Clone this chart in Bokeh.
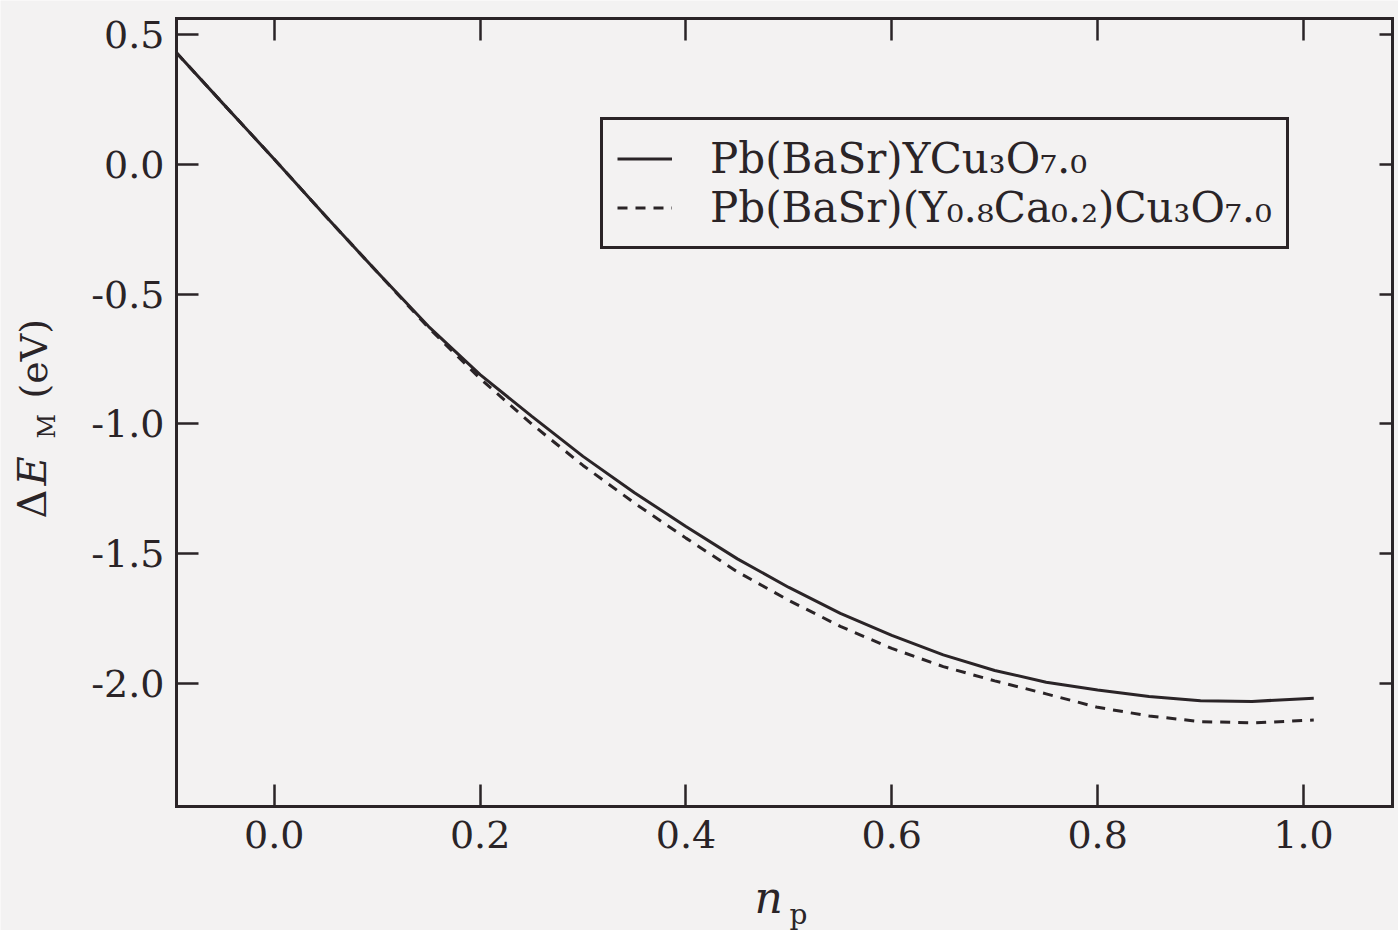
import math
from bokeh.plotting import figure
from bokeh.models import Range1d, LinearAxis, FixedTicker, Legend, LegendItem, Label, ColumnDataSource
from bokeh.embed import file_html
from bokeh.resources import INLINE

# ---- data ----
n_p = [-0.095, -0.05, 0.0, 0.05, 0.1, 0.15, 0.2, 0.25, 0.3, 0.35, 0.4, 0.45,
       0.5, 0.55, 0.6, 0.65, 0.7, 0.75, 0.8, 0.85, 0.9, 0.95, 1.01]
dE_Y = [0.43, 0.235, 0.02, -0.20, -0.415, -0.625, -0.81, -0.97, -1.125, -1.265,
        -1.395, -1.52, -1.63, -1.73, -1.815, -1.89, -1.95, -1.995, -2.025,
        -2.05, -2.067, -2.069, -2.057]
dE_YCa = [0.43, 0.235, 0.02, -0.20, -0.415, -0.63, -0.825, -1.0, -1.16, -1.305,
          -1.44, -1.57, -1.68, -1.78, -1.865, -1.935, -1.99, -2.04, -2.092,
          -2.125, -2.147, -2.152, -2.141]
series_names = ["Pb(BaSr)YCu₃O₇.₀", "Pb(BaSr)(Y₀.₈Ca₀.₂)Cu₃O₇.₀"]
x_ticks = [0.0, 0.2, 0.4, 0.6, 0.8, 1.0]
x_tick_labels = ["0.0", "0.2", "0.4", "0.6", "0.8", "1.0"]
y_ticks = [0.5, 0.0, -0.5, -1.0, -1.5, -2.0]
y_tick_labels = ["0.5", "0.0", "-0.5", "-1.0", "-1.5", "-2.0"]

# ---- layout constants ----
W, H = 1398, 930
FL, FR, FT, FB = 176, 1392, 18, 806          # drawn box, in canvas pixels
XMIN, XMAX = -0.095, 1.0865                   # axis extent of the box
YMIN, YMAX = -2.474, 0.562
INK = "#2a2427"
BG = "#f3f2f2"
FONT = "DejaVu Serif"


def px2x(px):
    return XMIN + (px - FL) * (XMAX - XMIN) / (FR - FL)


def py2y(py):
    return YMAX - (py - FT) * (YMAX - YMIN) / (FB - FT)


# the frame fills the whole canvas; the axes are pinned to the box edges
p = figure(width=W, height=H,
           x_range=Range1d(px2x(0), px2x(W)), y_range=Range1d(py2y(H), py2y(0)),
           output_backend="svg", toolbar_location=None,
           min_border_left=0, min_border_right=0, min_border_top=0, min_border_bottom=0)
p.background_fill_color = BG
p.border_fill_color = BG
p.grid.visible = False
p.outline_line_color = None


def style_axis(ax, ticks, labels, tick_len, show_labels, standoff, loc, bounds):
    ax.fixed_location = loc
    ax.bounds = bounds
    ax.ticker = FixedTicker(ticks=ticks)
    ax.axis_line_color = INK
    ax.axis_line_width = 3
    ax.axis_line_cap = "square"
    ax.major_tick_line_color = INK
    ax.major_tick_line_width = 2.5
    ax.major_tick_in = tick_len
    ax.major_tick_out = 0
    ax.minor_tick_line_color = None
    if show_labels:
        ax.major_label_overrides = {t: l for t, l in zip(ticks, labels)}
        ax.major_label_text_font = FONT
        ax.major_label_text_font_size = "38px"
        ax.major_label_text_color = INK
        ax.major_label_standoff = standoff
    else:
        ax.major_label_overrides = {t: "" for t in ticks}
        ax.major_label_text_font_size = "0px"
        ax.major_label_standoff = 0


style_axis(p.xaxis[0], x_ticks, x_tick_labels, 22, True, 14, YMIN, (XMIN, XMAX))
style_axis(p.yaxis[0], y_ticks, y_tick_labels, 22, True, 12, XMIN, (YMIN, YMAX))

top = LinearAxis()
style_axis(top, x_ticks, x_tick_labels, 22, False, 0, YMAX, (XMIN, XMAX))
p.add_layout(top, "above")
right = LinearAxis()
style_axis(right, y_ticks, y_tick_labels, 13, False, 0, XMAX, (YMIN, YMAX))
p.add_layout(right, "right")

src = ColumnDataSource(data=dict(x=n_p, y1=dE_Y, y2=dE_YCa))
r1 = p.line("x", "y1", source=src, line_color=INK, line_width=3)
r2 = p.line("x", "y2", source=src, line_color=INK, line_width=3, line_dash="10 8")

legend = Legend(items=[LegendItem(label=series_names[0], renderers=[r1]),
                       LegendItem(label=series_names[1], renderers=[r2])],
                location=(600, H - 249), orientation="vertical",
                padding=14, spacing=0, margin=0,
                label_height=49, glyph_height=49, glyph_width=55, label_standoff=38,
                label_text_font=FONT, label_text_font_size="42px", label_text_color=INK,
                border_line_color=INK, border_line_width=3, border_line_alpha=1.0,
                background_fill_color=BG, background_fill_alpha=1.0)
p.add_layout(legend, "center")


def title_piece(txt, base_px, start_py, size, style, rotated):
    # text placed by its baseline (in canvas pixels); drawn with a middle baseline
    shift = 0.35 * size
    if rotated:
        x, y, ang = px2x(base_px - shift), py2y(start_py), math.pi / 2
    else:
        x, y, ang = px2x(start_py), py2y(base_px - shift), 0.0
    p.add_layout(Label(x=x, y=y, text=txt, angle=ang,
                       text_font=FONT, text_font_size=f"{size}px", text_font_style=style,
                       text_color=INK, text_align="left", text_baseline="middle"))


# y-axis title: ΔE_M (eV), rotated (base x, start y)
title_piece("Δ", 45, 518, 40, "normal", True)
title_piece("E", 45, 485, 40, "italic", True)
title_piece("M", 55, 438, 24, "normal", True)
title_piece("(eV)", 47, 398, 38, "normal", True)

# x-axis title: n_p  (base y, start x)
title_piece("n", 912, 754, 44, "italic", False)
title_piece("p", 924, 789, 28, "normal", False)

open("out.html", "w").write(file_html(p, INLINE))
